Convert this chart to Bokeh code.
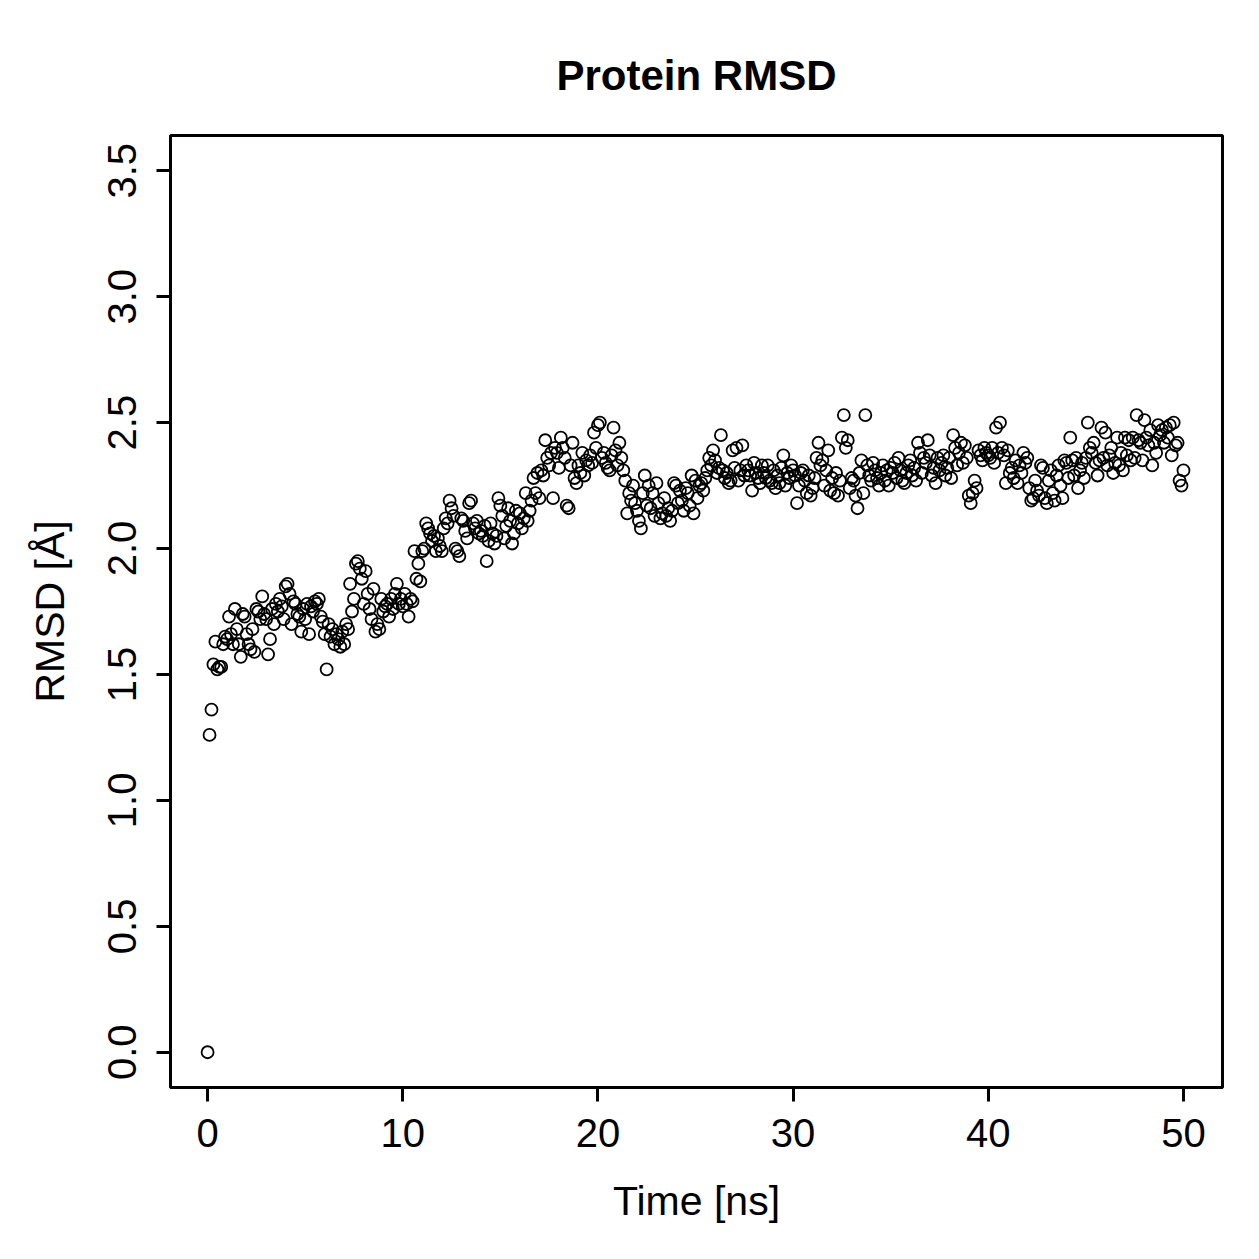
from bokeh.plotting import figure
from bokeh.models import Range1d, FixedTicker, ColumnDataSource, CustomJSTickFormatter
from bokeh.embed import file_html
from bokeh.resources import INLINE

# RMSD values (Å), sampled every 0.1 ns from 0 to 50 ns, rows = 1 ns each
rmsd = [
    0.00, 1.26, 1.36, 1.54, 1.63, 1.52, 1.53, 1.53, 1.62, 1.65,
    1.64, 1.73, 1.66, 1.62, 1.76, 1.68, 1.62, 1.57, 1.74, 1.73,
    1.66, 1.62, 1.60, 1.68, 1.59, 1.76, 1.75, 1.72, 1.81, 1.74,
    1.72, 1.58, 1.64, 1.76, 1.70, 1.78, 1.75, 1.80, 1.77, 1.72,
    1.85, 1.86, 1.82, 1.70, 1.79, 1.78, 1.74, 1.73, 1.67, 1.76,
    1.72, 1.78, 1.66, 1.77, 1.75, 1.79, 1.78, 1.80, 1.73, 1.71,
    1.66, 1.52, 1.70, 1.65, 1.68, 1.62, 1.66, 1.64, 1.61, 1.67,
    1.62, 1.70, 1.68, 1.86, 1.75, 1.80, 1.94, 1.95, 1.92, 1.88,
    1.78, 1.91, 1.82, 1.76, 1.72, 1.84, 1.67, 1.70, 1.68, 1.80,
    1.75, 1.77, 1.78, 1.73, 1.80, 1.76, 1.82, 1.86, 1.78, 1.80,
    1.77, 1.82, 1.78, 1.73, 1.80, 1.79, 1.99, 1.88, 1.94, 1.87,
    1.99, 2.00, 2.10, 2.08, 2.06, 2.03, 2.05, 1.99, 2.04, 2.01,
    1.99, 2.08, 2.12, 2.10, 2.19, 2.16, 2.13, 2.00, 1.99, 1.97,
    2.12, 2.11, 2.07, 2.04, 2.18, 2.19, 2.10, 2.08, 2.11, 2.06,
    2.07, 2.05, 2.09, 1.95, 2.03, 2.10, 2.06, 2.02, 2.05, 2.20,
    2.17, 2.13, 2.04, 2.09, 2.16, 2.11, 2.02, 2.06, 2.15, 2.10,
    2.14, 2.08, 2.12, 2.22, 2.11, 2.15, 2.19, 2.28, 2.22, 2.30,
    2.20, 2.31, 2.29, 2.43, 2.36, 2.33, 2.38, 2.20, 2.40, 2.38,
    2.32, 2.44, 2.40, 2.36, 2.17, 2.16, 2.33, 2.42, 2.28, 2.26,
    2.33, 2.30, 2.38, 2.29, 2.35, 2.33, 2.37, 2.34, 2.46, 2.40,
    2.49, 2.50, 2.36, 2.38, 2.34, 2.32, 2.31, 2.37, 2.48, 2.39,
    2.33, 2.42, 2.36, 2.31, 2.27, 2.14, 2.22, 2.19, 2.25, 2.18,
    2.15, 2.11, 2.08, 2.22, 2.29, 2.17, 2.25, 2.16, 2.22, 2.13,
    2.26, 2.18, 2.12, 2.14, 2.20, 2.13, 2.16, 2.11, 2.15, 2.26,
    2.25, 2.18, 2.23, 2.19, 2.15, 2.24, 2.22, 2.17, 2.29, 2.14,
    2.27, 2.20, 2.25, 2.26, 2.23, 2.28, 2.31, 2.36, 2.33, 2.39,
    2.35, 2.30, 2.32, 2.45, 2.31, 2.28, 2.30, 2.26, 2.27, 2.39,
    2.32, 2.40, 2.27, 2.31, 2.41, 2.29, 2.33, 2.31, 2.29, 2.23,
    2.34, 2.30, 2.28, 2.26, 2.33, 2.30, 2.28, 2.33, 2.27, 2.26,
    2.31, 2.24, 2.29, 2.26, 2.32, 2.37, 2.25, 2.30, 2.28, 2.33,
    2.31, 2.29, 2.18, 2.25, 2.30, 2.31, 2.27, 2.22, 2.29, 2.21,
    2.24, 2.28, 2.36, 2.42, 2.33, 2.35, 2.25, 2.31, 2.39, 2.23,
    2.28, 2.22, 2.30, 2.21, 2.27, 2.44, 2.53, 2.40, 2.43, 2.24,
    2.28, 2.27, 2.21, 2.16, 2.30, 2.35, 2.22, 2.53, 2.33, 2.29,
    2.27, 2.34, 2.31, 2.28, 2.25, 2.30, 2.33, 2.27, 2.31, 2.25,
    2.32, 2.30, 2.34, 2.28, 2.36, 2.31, 2.27, 2.26, 2.30, 2.33,
    2.35, 2.29, 2.32, 2.27, 2.42, 2.38, 2.30, 2.36, 2.34, 2.43,
    2.37, 2.29, 2.32, 2.26, 2.36, 2.31, 2.34, 2.37, 2.29, 2.32,
    2.36, 2.28, 2.45, 2.40, 2.33, 2.38, 2.42, 2.34, 2.41, 2.36,
    2.21, 2.18, 2.22, 2.27, 2.24, 2.39, 2.37, 2.35, 2.40, 2.38,
    2.37, 2.36, 2.40, 2.34, 2.48, 2.38, 2.50, 2.40, 2.37, 2.26,
    2.39, 2.30, 2.32, 2.28, 2.35, 2.26, 2.33, 2.30, 2.38, 2.34,
    2.36, 2.24, 2.19, 2.20, 2.27, 2.23, 2.21, 2.33, 2.32, 2.20,
    2.18, 2.27, 2.31, 2.22, 2.19, 2.29, 2.33, 2.25, 2.20, 2.35,
    2.34, 2.28, 2.44, 2.35, 2.29, 2.36, 2.24, 2.31, 2.34, 2.28,
    2.36, 2.50, 2.40, 2.38, 2.42, 2.34, 2.29, 2.35, 2.48, 2.36,
    2.46, 2.33, 2.37, 2.40, 2.30, 2.34, 2.44, 2.33, 2.38, 2.31,
    2.44, 2.37, 2.43, 2.35, 2.44, 2.36, 2.53, 2.43, 2.42, 2.35,
    2.51, 2.44, 2.41, 2.47, 2.33, 2.42, 2.38, 2.49, 2.45, 2.47,
    2.42, 2.48, 2.44, 2.49, 2.37, 2.50, 2.41, 2.42, 2.27, 2.25,
    2.31,
]
frame_step_ns = 0.1
time_ns = [round(i * frame_step_ns, 1) for i in range(len(rmsd))]

x_ticks = [0, 10, 20, 30, 40, 50]
y_ticks = [0.0, 0.5, 1.0, 1.5, 2.0, 2.5, 3.0, 3.5]

title_text = "Protein RMSD"
x_label = "Time [ns]"
y_label = "RMSD [Å]"

FONT = "Liberation Sans"

p = figure(
    width=1259, height=1259,
    output_backend="svg", toolbar_location=None,
    x_range=Range1d(-1.9, 52), y_range=Range1d(-0.14, 3.64),
    min_border_left=170, min_border_right=37,
    min_border_top=135, min_border_bottom=172,
    title=title_text,
)
p.background_fill_color = "white"
p.border_fill_color = "white"
p.grid.visible = False
p.outline_line_color = "black"
p.outline_line_width = 3

p.title.align = "center"
p.title.text_font = FONT
p.title.text_font_size = "42px"
p.title.text_font_style = "bold"
p.title.text_color = "black"
p.title.standoff = 74

src = ColumnDataSource(dict(t=time_ns, r=rmsd))
p.scatter("t", "r", source=src, marker="circle", size=12,
          fill_color=None, line_color="black", line_width=1.8)

for ax in (p.xaxis[0], p.yaxis[0]):
    ax.axis_line_color = None
    ax.major_tick_line_color = "black"
    ax.major_tick_line_width = 3
    ax.major_tick_out = 14
    ax.major_tick_in = 0
    ax.minor_tick_line_color = None
    ax.major_label_text_font = FONT
    ax.major_label_text_font_size = "40px"
    ax.major_label_text_color = "black"
    ax.axis_label_text_font = FONT
    ax.axis_label_text_font_size = "41px"
    ax.axis_label_text_font_style = "normal"
    ax.axis_label_text_color = "black"

p.xaxis.ticker = FixedTicker(ticks=x_ticks)
p.yaxis.ticker = FixedTicker(ticks=y_ticks)
p.yaxis.formatter = CustomJSTickFormatter(code="return tick.toFixed(1);")
p.yaxis.major_label_orientation = "vertical"
p.xaxis.axis_label = x_label
p.yaxis.axis_label = y_label
p.xaxis.major_label_standoff = 17
p.yaxis.major_label_standoff = 20
p.xaxis.axis_label_standoff = 28
p.yaxis.axis_label_standoff = 33

open("out.html", "w").write(file_html(p, INLINE))
